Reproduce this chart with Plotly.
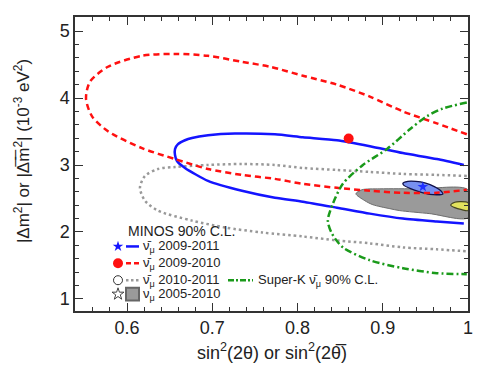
import plotly.graph_objects as go

# ---------------- data ----------------
# MINOS anti-nu_mu 2009-2011 90% C.L. contour (blue solid)
blue_x = [0.9951, 0.9634, 0.9236, 0.8849, 0.8462, 0.8063, 0.7735, 0.7266, 0.695, 0.6762, 0.668, 0.6598,
          0.6563, 0.6563, 0.6586, 0.668, 0.695, 0.7348, 0.7735, 0.8063, 0.8462, 0.8849, 0.9236, 0.9634, 0.9951]
blue_y = [3.0, 3.089, 3.178, 3.281, 3.37, 3.415, 3.459, 3.47, 3.444, 3.404, 3.37, 3.311,
          3.237, 3.15, 3.06, 2.956, 2.763, 2.615, 2.511, 2.452, 2.363, 2.274, 2.2, 2.156, 2.126]

# MINOS anti-nu_mu 2009-2010 (red dashed)
red_x = [0.9986, 0.9634, 0.9236, 0.8849, 0.8462, 0.8063, 0.7676, 0.7348, 0.695, 0.6563, 0.6176, 0.5777,
         0.5566, 0.5519, 0.559, 0.5777, 0.6176, 0.6563, 0.695, 0.7348, 0.7735, 0.8063, 0.8462, 0.8849,
         0.9236, 0.9634, 0.9986]
red_y = [3.459, 3.622, 3.8, 4.022, 4.2, 4.333, 4.467, 4.541, 4.63, 4.659, 4.63, 4.467,
         4.244, 3.993, 3.726, 3.504, 3.252, 3.089, 2.941, 2.852, 2.793, 2.719, 2.659, 2.615,
         2.585, 2.585, 2.63]

# MINOS anti-nu_mu 2010-2011 (grey dotted)
grey_x = [0.9986, 0.9634, 0.9236, 0.8849, 0.8462, 0.8063, 0.7735, 0.7348, 0.695, 0.6563, 0.6363, 0.6211,
          0.6152, 0.6211, 0.6363, 0.6762, 0.7149, 0.7583, 0.8063, 0.8462, 0.8849, 0.9236, 0.9634, 0.9986]
grey_y = [2.837, 2.852, 2.867, 2.896, 2.926, 2.956, 3.0, 3.015, 3.0, 2.97, 2.941, 2.837,
          2.659, 2.467, 2.319, 2.17, 2.067, 1.993, 1.933, 1.874, 1.83, 1.77, 1.741, 1.711]

# Super-K anti-nu_mu 90% C.L. (green dash-dot)
sk_x = [0.9986, 0.9705, 0.9517, 0.9318, 0.9048, 0.8767, 0.8532, 0.8415, 0.8356, 0.8403, 0.8532,
        0.8849, 0.9236, 0.9634, 0.9986]
sk_y = [3.933, 3.844, 3.726, 3.533, 3.237, 3.0, 2.719, 2.422, 2.17, 1.978, 1.77,
        1.578, 1.459, 1.385, 1.37]

# MINOS nu_mu 2005-2010 (grey filled region)
numu_x = [0.8685, 0.8755, 0.8966, 0.9435, 1.0, 1.0, 0.9552, 0.92, 0.9083, 0.8884, 0.879, 0.8685]
numu_y = [2.57, 2.63, 2.644, 2.644, 2.63, 2.215, 2.274, 2.319, 2.348, 2.407, 2.467, 2.57]

# combined best region (blue filled ellipse) and best fit star
comb_x = [0.9236, 0.9294, 0.9388, 0.9494, 0.9611, 0.9693, 0.9705, 0.9646, 0.9552, 0.9435, 0.9318, 0.9248, 0.9236]
comb_y = [2.726, 2.756, 2.756, 2.733, 2.674, 2.6, 2.563, 2.556, 2.563, 2.6, 2.652, 2.696, 2.726]
best_x = [0.947]
best_y = [2.674]

# yellow region at the right edge
yel_x = [0.9798, 0.9845, 0.9904, 1.0, 1.0, 0.9927, 0.9845, 0.9798]
yel_y = [2.40, 2.444, 2.452, 2.437, 2.319, 2.333, 2.363, 2.40]

# best fit point of 2009-2010 (red dot)
dot_x = [0.86]
dot_y = [3.395]

x_ticks = [0.6, 0.7, 0.8, 0.9, 1.0]
x_tick_text = ["0.6", "0.7", "0.8", "0.9", "1"]
y_ticks = [1, 2, 3, 4, 5]
y_tick_text = ["1", "2", "3", "4", "5"]

legend_title = "MINOS 90% C.L."
legend_labels = ["ν̄<sub>μ</sub> 2009-2011", "ν̄<sub>μ</sub> 2009-2010",
                 "ν̄<sub>μ</sub> 2010-2011", "ν<sub>μ</sub> 2005-2010"]
sk_label = "Super-K ν̄<sub>μ</sub> 90% C.L."
x_title = "sin<sup>2</sup>(2θ) or sin<sup>2</sup>(2θ̅)"
y_title = "|Δm<sup>2</sup>| or |Δ̅m̅<sup>2</sup>| (10<sup>-3</sup> eV<sup>2</sup>)"

# ---------------- figure ----------------
FONT = "Liberation Sans, Arial, sans-serif"
OFF = 8                      # page body margin of the html file
WIN_W, WIN_H = 489, 378
FX0, FX1, FY0, FY1 = 75, 468, 15, 311   # frame position in the window
W, H = WIN_W - OFF, WIN_H - OFF
L, R, T, B = FX0 - OFF, W - (FX1 - OFF), FY0 - OFF, H - (FY1 - OFF)
LEG_FS = 13
TITLE_FS = 14

def px2paper(px, py):
    return (px - FX0) / (FX1 - FX0), (FY1 - py) / (FY1 - FY0)

fig = go.Figure()

fig.add_trace(go.Scatter(x=numu_x, y=numu_y, mode="lines", fill="toself",
                         fillcolor="#9a9a9a", line=dict(color="#6e6e6e", width=1, shape="spline", smoothing=0.8),
                         hoverinfo="skip", showlegend=False))
fig.add_trace(go.Scatter(x=yel_x, y=yel_y, mode="lines", fill="toself",
                         fillcolor="#e2e25e", line=dict(color="#444422", width=1.2, shape="spline", smoothing=0.8),
                         hoverinfo="skip", showlegend=False))
fig.add_trace(go.Scatter(x=grey_x, y=grey_y, mode="lines",
                         line=dict(color="#999999", width=2.5, dash="2.5px,3px", shape="spline", smoothing=0.8),
                         hoverinfo="skip", showlegend=False))
fig.add_trace(go.Scatter(x=blue_x, y=blue_y, mode="lines",
                         line=dict(color="#1414ff", width=2.5, shape="spline", smoothing=0.6),
                         hoverinfo="skip", showlegend=False))
fig.add_trace(go.Scatter(x=comb_x, y=comb_y, mode="lines", fill="toself",
                         fillcolor="#7890f0", line=dict(color="#10104a", width=1.3, shape="spline", smoothing=1),
                         hoverinfo="skip", showlegend=False))
fig.add_trace(go.Scatter(x=red_x, y=red_y, mode="lines",
                         line=dict(color="#ff1010", width=2.5, dash="6px,4px", shape="spline", smoothing=0.8),
                         hoverinfo="skip", showlegend=False))
fig.add_trace(go.Scatter(x=sk_x, y=sk_y, mode="lines",
                         line=dict(color="#1a9a1a", width=2.5, dash="7px,3px,2px,3px", shape="spline", smoothing=0.8),
                         hoverinfo="skip", showlegend=False))
fig.add_trace(go.Scatter(x=best_x, y=best_y, mode="markers",
                         marker=dict(symbol="star", size=8, color="#2030ff"),
                         hoverinfo="skip", showlegend=False))
fig.add_trace(go.Scatter(x=dot_x, y=dot_y, mode="markers",
                         marker=dict(symbol="circle", size=10, color="#ff1010"),
                         hoverinfo="skip", showlegend=False))

# ---------------- custom legend (overlay axes in paper units) ----------------
row_py = [246, 263, 280, 294]
mk_px = 118
ln_px = (126, 139)
txt_px = 141
markers = [dict(symbol="star", size=8, color="#1414ff"),
           dict(symbol="circle", size=10, color="#ff1010"),
           dict(symbol="circle-open", size=9, color="#333333", line=dict(width=1)),
           dict(symbol="star-open", size=9, color="#444444", line=dict(width=1))]
lines = [dict(color="#1414ff", width=2.5),
         dict(color="#ff1010", width=2.5, dash="5px,3px"),
         dict(color="#999999", width=2.5, dash="2.5px,2.5px"),
         None]
for i, py in enumerate(row_py):
    mx, my = px2paper(mk_px, py)
    fig.add_trace(go.Scatter(x=[mx], y=[my], mode="markers", marker=markers[i],
                             xaxis="x2", yaxis="y2", hoverinfo="skip", showlegend=False))
    x0, _ = px2paper(ln_px[0], py)
    x1, _ = px2paper(ln_px[1], py)
    if lines[i] is not None:
        fig.add_trace(go.Scatter(x=[x0, x1], y=[my, my], mode="lines", line=lines[i],
                                 xaxis="x2", yaxis="y2", hoverinfo="skip", showlegend=False))
    else:
        fig.add_shape(type="rect", xref="paper", yref="paper",
                      x0=x0, x1=x1, y0=px2paper(0, py + 6.5)[1], y1=px2paper(0, py - 6.5)[1],
                      fillcolor="#9a9a9a", line=dict(color="#666666", width=2))
    tx, _ = px2paper(txt_px, py)
    fig.add_annotation(x=tx, y=my, xref="paper", yref="paper", text=legend_labels[i],
                       showarrow=False, xanchor="left", yanchor="middle",
                       font=dict(family=FONT, size=LEG_FS, color="#222222"))

tx, ty = px2paper(126, 230)
fig.add_annotation(x=tx, y=ty, xref="paper", yref="paper", text=legend_title, showarrow=False,
                   xanchor="left", yanchor="middle", font=dict(family=FONT, size=TITLE_FS, color="#222222"))

sx0, sy = px2paper(228, 280)
sx1, _ = px2paper(253, 280)
fig.add_trace(go.Scatter(x=[sx0, sx1], y=[sy, sy], mode="lines",
                         line=dict(color="#1a9a1a", width=2.5, dash="6px,2px,2px,2px"),
                         xaxis="x2", yaxis="y2", hoverinfo="skip", showlegend=False))
stx, _ = px2paper(256, 280)
fig.add_annotation(x=stx, y=sy, xref="paper", yref="paper", text=sk_label, showarrow=False,
                   xanchor="left", yanchor="middle", font=dict(family=FONT, size=LEG_FS, color="#222222"))

# axis titles
ax, ay = px2paper(272, 352)
fig.add_annotation(x=ax, y=ay, xref="paper", yref="paper", text=x_title, showarrow=False,
                   xanchor="center", yanchor="middle", font=dict(family=FONT, size=18, color="#222222"))
bx, by = px2paper(22, 150)
fig.add_annotation(x=bx, y=by, xref="paper", yref="paper", text=y_title, showarrow=False, textangle=-90,
                   xanchor="center", yanchor="middle", font=dict(family=FONT, size=17, color="#222222"))

axis_common = dict(showline=True, linecolor="#333333", linewidth=1.5, mirror="allticks",
                   ticks="inside", ticklen=8, tickwidth=1, tickcolor="#333333",
                   showgrid=False, zeroline=False,
                   tickfont=dict(family=FONT, size=18, color="#222222"))

fig.update_layout(
    width=W, height=H,
    margin=dict(l=L, r=R, t=T, b=B),
    paper_bgcolor="white", plot_bgcolor="white",
    xaxis=dict(range=[0.539, 1.0], tickvals=x_ticks, ticktext=x_tick_text,
               minor=dict(dtick=0.02, tick0=0.6, ticks="inside", ticklen=4, tickcolor="#333333"),
               **axis_common),
    yaxis=dict(range=[0.82, 5.21], tickvals=y_ticks, ticktext=y_tick_text,
               minor=dict(dtick=0.2, tick0=1, ticks="inside", ticklen=4, tickcolor="#333333"),
               **axis_common),
    xaxis2=dict(overlaying="x", range=[0, 1], visible=False, anchor="y2"),
    yaxis2=dict(overlaying="y", range=[0, 1], visible=False, anchor="x2"),
    showlegend=False,
)

fig.write_html("out.html")
